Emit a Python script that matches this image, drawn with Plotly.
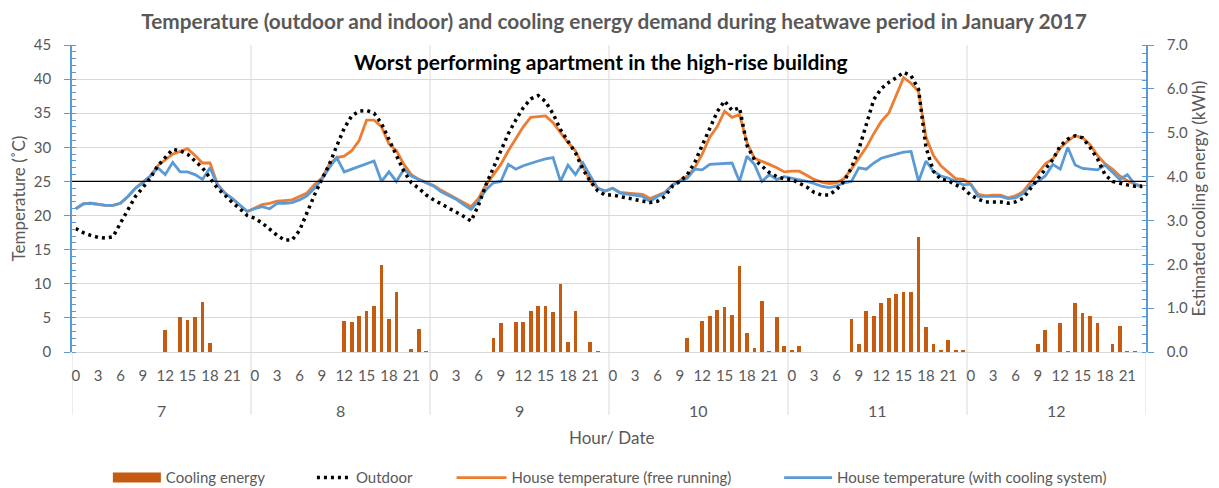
import plotly.graph_objects as go

days = [7, 8, 9, 10, 11, 12]
hours = list(range(24))
hour_ticks = [0, 3, 6, 9, 12, 15, 18, 21]

outdoor_d7 = [18.1, 17.5, 17.1, 16.8, 16.7, 16.9, 18.9, 20.9, 22.8, 24.1, 25.5, 27.3, 28.5, 29.7, 29.5, 29.0, 28.0, 27.0, 25.5, 24.0, 23.0, 21.9, 21.0, 20.0]
outdoor_d8 = [19.6, 18.9, 18.0, 17.1, 16.4, 16.4, 17.8, 20.5, 23.0, 25.3, 27.5, 30.2, 32.8, 34.6, 35.3, 35.4, 35.0, 33.5, 31.0, 28.8, 26.5, 24.8, 24.0, 23.0]
outdoor_d9 = [22.3, 21.7, 21.1, 20.6, 19.9, 19.2, 21.5, 24.5, 27.0, 29.5, 32.0, 34.0, 35.8, 37.1, 37.6, 36.7, 34.9, 32.6, 31.0, 29.2, 26.8, 25.0, 23.6, 23.0]
outdoor_d10 = [23.0, 22.8, 22.6, 22.4, 22.1, 21.9, 22.1, 22.8, 24.3, 25.0, 26.0, 27.8, 30.3, 32.8, 35.2, 36.8, 35.4, 35.8, 30.3, 28.2, 27.2, 26.3, 25.7, 25.4]
outdoor_d11 = [25.3, 24.7, 24.2, 23.4, 23.0, 23.0, 23.8, 25.0, 27.0, 29.7, 33.5, 37.0, 38.6, 39.5, 40.2, 41.0, 40.5, 38.5, 30.0, 26.5, 25.3, 25.1, 24.5, 24.0]
outdoor_d12 = [23.0, 22.4, 22.0, 22.0, 22.0, 21.8, 22.0, 22.5, 24.0, 25.3, 26.8, 28.2, 30.2, 31.2, 31.7, 31.4, 30.0, 28.3, 26.0, 25.0, 24.7, 24.5, 24.3, 24.3]

free_d7 = [21.0, 21.7, 21.8, 21.6, 21.5, 21.5, 21.8, 22.8, 24.0, 24.9, 25.8, 27.3, 28.2, 29.0, 29.4, 29.8, 28.8, 27.7, 27.7, 24.6, 23.3, 22.5, 21.5, 20.6]
free_d8 = [21.1, 21.6, 21.8, 22.1, 22.2, 22.3, 22.8, 23.3, 24.5, 25.5, 27.5, 28.5, 28.7, 29.5, 31.0, 34.0, 34.0, 33.0, 30.5, 29.5, 27.5, 26.0, 25.3, 24.8]
free_d9 = [24.4, 23.7, 23.1, 22.6, 22.0, 21.3, 22.5, 24.5, 26.0, 27.5, 29.5, 31.2, 33.0, 34.4, 34.5, 34.6, 33.6, 32.2, 30.7, 29.5, 27.3, 25.0, 24.0, 23.6]
free_d10 = [24.0, 23.4, 23.3, 23.2, 23.1, 22.5, 23.0, 23.4, 24.5, 25.2, 25.8, 27.0, 29.0, 31.5, 33.0, 35.3, 34.4, 34.8, 30.7, 28.4, 28.0, 27.5, 27.0, 26.4]
free_d11 = [26.5, 26.5, 25.9, 25.3, 24.9, 24.7, 24.8, 25.4, 26.8, 28.5, 30.0, 32.0, 33.8, 35.0, 37.5, 40.2, 39.4, 38.2, 31.5, 28.8, 27.3, 26.3, 25.4, 25.3]
free_d12 = [24.6, 23.1, 22.9, 23.0, 23.0, 22.6, 22.9, 23.5, 24.8, 26.2, 27.6, 28.3, 29.9, 30.9, 31.7, 31.4, 30.4, 28.8, 27.6, 26.8, 25.8, 25.1, 24.6, 24.3]

cool_d7 = [21.0, 21.7, 21.8, 21.6, 21.5, 21.5, 21.8, 22.8, 24.0, 24.8, 25.8, 27.0, 26.0, 27.8, 26.4, 26.4, 26.0, 25.3, 27.0, 24.5, 23.3, 22.5, 21.5, 20.6]
cool_d8 = [21.0, 21.3, 21.0, 21.8, 21.8, 21.9, 22.3, 22.9, 24.0, 25.3, 27.0, 28.5, 26.4, 26.8, 27.2, 27.6, 28.0, 25.0, 26.4, 25.0, 26.8, 25.8, 25.3, 24.8]
cool_d9 = [24.3, 23.5, 23.0, 22.4, 21.6, 20.9, 22.1, 23.8, 24.8, 25.0, 27.5, 26.8, 27.3, 27.7, 28.0, 28.3, 28.5, 25.0, 27.4, 26.0, 27.7, 25.8, 24.0, 23.6]
cool_d10 = [24.0, 23.3, 23.1, 23.0, 22.8, 22.1, 22.8, 23.3, 24.5, 25.0, 25.5, 26.8, 26.7, 27.5, 27.6, 27.7, 27.7, 25.0, 28.7, 27.5, 25.0, 26.0, 25.3, 25.7]
cool_d11 = [25.5, 25.3, 25.0, 24.7, 24.3, 24.1, 24.3, 24.8, 25.0, 27.0, 26.8, 27.7, 28.4, 28.7, 29.0, 29.3, 29.4, 25.0, 28.0, 26.5, 25.8, 25.5, 25.0, 24.5]
cool_d12 = [24.6, 22.8, 22.8, 22.8, 22.8, 22.5, 22.6, 23.2, 24.3, 25.0, 25.8, 27.5, 26.8, 30.0, 27.4, 26.9, 26.8, 26.7, 27.4, 26.3, 25.3, 26.0, 24.6, 24.1]

energy_d7 = [0, 0, 0, 0, 0, 0, 0, 0, 0, 0, 0, 0, 0.50, 0, 0.79, 0.73, 0.79, 1.15, 0.21, 0, 0, 0, 0, 0]
energy_d8 = [0, 0, 0, 0, 0, 0, 0, 0, 0, 0, 0, 0, 0.71, 0.69, 0.82, 0.94, 1.05, 1.98, 0.76, 1.37, 0, 0.06, 0.53, 0.02]
energy_d9 = [0, 0, 0, 0, 0, 0, 0, 0, 0.31, 0.65, 0, 0.69, 0.69, 0.94, 1.05, 1.05, 0.92, 1.56, 0.23, 0.94, 0, 0.23, 0.02, 0]
energy_d10 = [0, 0, 0, 0, 0, 0, 0, 0, 0, 0, 0.31, 0, 0.71, 0.82, 0.95, 1.02, 0.85, 1.96, 0.44, 0.10, 1.17, 0.02, 0.80, 0.13]
energy_d11 = [0.03, 0.14, 0, 0, 0, 0, 0, 0, 0.76, 0.19, 0.94, 0.82, 1.11, 1.22, 1.32, 1.37, 1.37, 2.63, 0.57, 0.18, 0.05, 0.27, 0.04, 0.04]
energy_d12 = [0, 0, 0, 0, 0, 0, 0, 0, 0, 0.19, 0.50, 0, 0.66, 0.02, 1.12, 0.88, 0.82, 0.65, 0, 0.19, 0.59, 0.02, 0.02, 0]

outdoor = outdoor_d7 + outdoor_d8 + outdoor_d9 + outdoor_d10 + outdoor_d11 + outdoor_d12
free_running = free_d7 + free_d8 + free_d9 + free_d10 + free_d11 + free_d12
with_cooling = cool_d7 + cool_d8 + cool_d9 + cool_d10 + cool_d11 + cool_d12
energy = energy_d7 + energy_d8 + energy_d9 + energy_d10 + energy_d11 + energy_d12

n_h = len(hours)
x = [d * n_h + h for d in range(len(days)) for h in hours]
tickvals = [d * n_h + h for d in range(len(days)) for h in hour_ticks]
ticktext = [str(h) for d in range(len(days)) for h in hour_ticks]

FONT = "Lato"
GREY = "#595959"
BLUE = "#5b9bd5"
ORANGE = "#ed7d31"
BAR = "#c55a11"
GRID = "#d9d9d9"

fig = go.Figure()
fig.add_trace(go.Bar(x=x, y=energy, yaxis="y2", marker=dict(color=BAR, line_width=0),
                     width=0.5, name="Cooling energy", showlegend=False))
fig.add_trace(go.Scatter(x=[None], y=[None], mode="lines", line=dict(color=BAR, width=10),
                         name="Cooling energy", legend="legend"))
fig.add_trace(go.Scatter(x=x, y=free_running, mode="lines", line=dict(color=ORANGE, width=2.8),
                         name="House temperature (free running)", legend="legend3"))
fig.add_trace(go.Scatter(x=x, y=with_cooling, mode="lines", line=dict(color=BLUE, width=2.8),
                         name="House temperature (with cooling system)", legend="legend4"))
fig.add_trace(go.Scatter(x=x, y=outdoor, mode="lines", line=dict(color="black", width=3.5, dash="3px,4px"),
                         name="Outdoor", legend="legend2"))

shapes = []
shapes.append(dict(type="line", xref="paper", yref="y", x0=0, x1=1, y0=25, y1=25,
                   line=dict(color="black", width=1.2), layer="above"))
for d in range(len(days) + 1):
    xb = d * n_h - 0.5
    top = 1 if 0 < d < len(days) else 0
    shapes.append(dict(type="line", xref="x", yref="paper", x0=xb, x1=xb, y0=-0.205, y1=top,
                       line=dict(color=GRID, width=1), layer="below"))

annotations = []
for d, day in enumerate(days):
    annotations.append(dict(x=d * n_h + (n_h - 1) / 2, y=-0.19, xref="x", yref="paper",
                            text=str(day), showarrow=False, yanchor="middle",
                            font=dict(family=FONT, size=16, color=GREY)))
annotations.append(dict(x=0.502, y=-0.28, xref="paper", yref="paper", text="Hour/ Date",
                        showarrow=False, yanchor="middle", font=dict(family=FONT, size=17, color=GREY)))
annotations.append(dict(x=0.4925, y=0.945, xref="paper", yref="paper",
                        text="<b>Worst performing apartment in the high-rise building</b>",
                        showarrow=False, yanchor="middle", font=dict(family=FONT, size=21, color="black")))

def leg(xpos, iw):
    return dict(orientation="h", yanchor="middle", xanchor="left", x=xpos, y=-0.41,
                font=dict(family=FONT, size=15, color=GREY), itemwidth=iw,
                bgcolor="rgba(0,0,0,0)")

fig.update_layout(
    width=1211, height=480,
    margin=dict(l=64, r=73, t=37, b=136, autoexpand=False),
    paper_bgcolor="white", plot_bgcolor="white",
    font=dict(family=FONT, color=GREY),
    title=dict(text="<b>Temperature (outdoor and indoor) and cooling energy demand during heatwave period in January 2017</b>",
               x=0.5004, xref="container", y=0.972, yref="container", xanchor="center", yanchor="middle",
               font=dict(family=FONT, size=20.8, color=GREY)),
    bargap=0,
    xaxis=dict(range=[-0.5, len(x) - 0.5], tickvals=tickvals, ticktext=ticktext, showgrid=False,
               showline=True, linecolor=GRID, zeroline=False, ticks="", ticklabelstandoff=10,
               automargin=False, tickfont=dict(family=FONT, size=15, color=GREY)),
    yaxis=dict(range=[0, 45], dtick=5, showgrid=True, gridcolor=GRID, zeroline=False, automargin=False,
               showline=True, linecolor=BLUE, linewidth=1.5, ticks="outside", tickcolor=BLUE, ticklen=6,
               ticklabelstandoff=10,
               minor=dict(dtick=1, ticks="inside", ticklen=4, tickcolor=BLUE, showgrid=False),
               tickfont=dict(family=FONT, size=15, color=GREY),
               title=dict(text="Temperature (˚C)", font=dict(family=FONT, size=17, color=GREY), standoff=4)),
    yaxis2=dict(range=[0, 7], dtick=1, tickformat=".1f", overlaying="y", side="right", showgrid=False,
                zeroline=False, showline=True, linecolor=BLUE, linewidth=1.5, ticks="outside", tickcolor=BLUE,
                ticklen=6, automargin=False, ticklabelstandoff=10,
                minor=dict(dtick=0.2, ticks="inside", ticklen=4, tickcolor=BLUE, showgrid=False),
                tickfont=dict(family=FONT, size=15, color=GREY),
                title=dict(text="Estimated cooling energy (kWh)", font=dict(family=FONT, size=17, color=GREY), standoff=6)),
    shapes=shapes,
    annotations=annotations,
    legend=leg(0.0334, 48),
    legend2=leg(0.2234, 34),
    legend3=leg(0.3534, 50),
    legend4=leg(0.6584, 48),
)

fig.write_html("out.html")
